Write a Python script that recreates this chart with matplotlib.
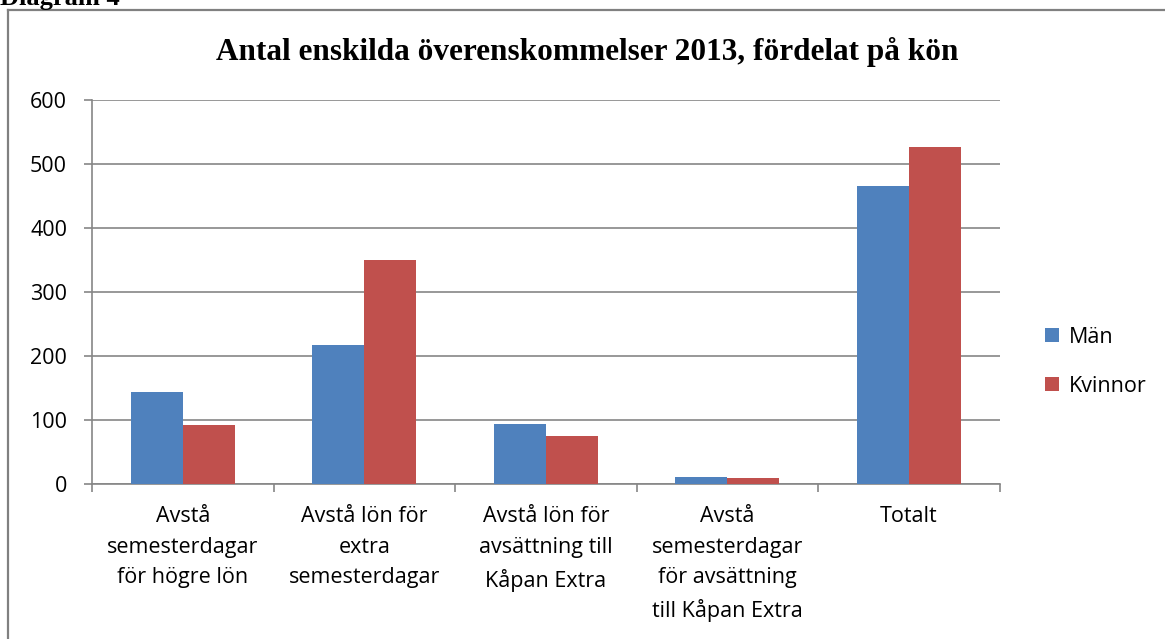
import matplotlib.pyplot as plt
import numpy as np
from matplotlib.lines import Line2D

# data
kategorier = ['Avstå\nsemesterdagar\nför högre lön',
              'Avstå lön för\nextra\nsemesterdagar',
              'Avstå lön för\navsättning till\nKåpan Extra',
              'Avstå\nsemesterdagar\nför avsättning\ntill Kåpan Extra',
              'Totalt']
man = [143, 217, 94, 11, 465]
kvinnor = [92, 350, 75, 9, 526]
yticks = [0, 100, 200, 300, 400, 500, 600]

blue = '#4F81BD'
red = '#C0504D'
grid_c = '#868686'
font = 'Open Sans'
fs = 15.5

fig = plt.figure(figsize=(11.65, 6.39), dpi=100)
ax = fig.add_axes([0.079, 0.2426, 0.779, 0.601])

x = np.arange(len(kategorier))
w = 0.286
ax.bar(x - w / 2, man, w, color=blue, label='Män', zorder=3)
ax.bar(x + w / 2, kvinnor, w, color=red, label='Kvinnor', zorder=3)

ax.set_xlim(-0.5, len(kategorier) - 0.5)
ax.set_ylim(0, 600)
ax.set_yticks(yticks)
ax.set_yticklabels([str(v) for v in yticks], fontsize=fs, family=font)
ax.yaxis.grid(True, color=grid_c, linewidth=1.2, zorder=0)

# category labels, ticks between groups
ax.set_xticks(np.arange(len(kategorier) + 1) - 0.5)
ax.set_xticklabels([])
ax.set_xticks(x, minor=True)
ax.set_xticklabels(kategorier, minor=True, fontsize=fs, family=font, linespacing=1.6)
ax.tick_params(axis='x', which='minor', length=0, pad=16)
ax.tick_params(axis='x', which='major', length=6, color=grid_c, width=1.2)
ax.tick_params(axis='y', length=6, color=grid_c, width=1.2, pad=12)

for s in ['top', 'right']:
    ax.spines[s].set_visible(False)
for s in ['left', 'bottom']:
    ax.spines[s].set_color(grid_c)
    ax.spines[s].set_linewidth(1.2)

ax.legend(loc='center left', bbox_to_anchor=(1.041, 0.318), frameon=False,
          prop={'family': font, 'size': fs}, handlelength=0.65, handleheight=0.65,
          labelspacing=1.3, handletextpad=0.45, borderaxespad=0)

fig.text(0.504, 0.919, 'Antal enskilda överenskommelser 2013, fördelat på kön',
         ha='center', va='center', fontsize=22.5, fontweight='bold', family='Liberation Serif')
fig.text(0.0, 1 - 5 / 639, 'Diagram 4', ha='left', va='baseline', fontsize=19,
         fontweight='bold', family='Liberation Serif')

# chart border (left and top edges visible)
bx = 8 / 1165
by = 1 - 10 / 639
fig.add_artist(Line2D([bx, bx], [0, by], transform=fig.transFigure, color='#808080', linewidth=1.6))
fig.add_artist(Line2D([bx, 1], [by, by], transform=fig.transFigure, color='#808080', linewidth=1.6))

fig.savefig('out.png', dpi=100)
